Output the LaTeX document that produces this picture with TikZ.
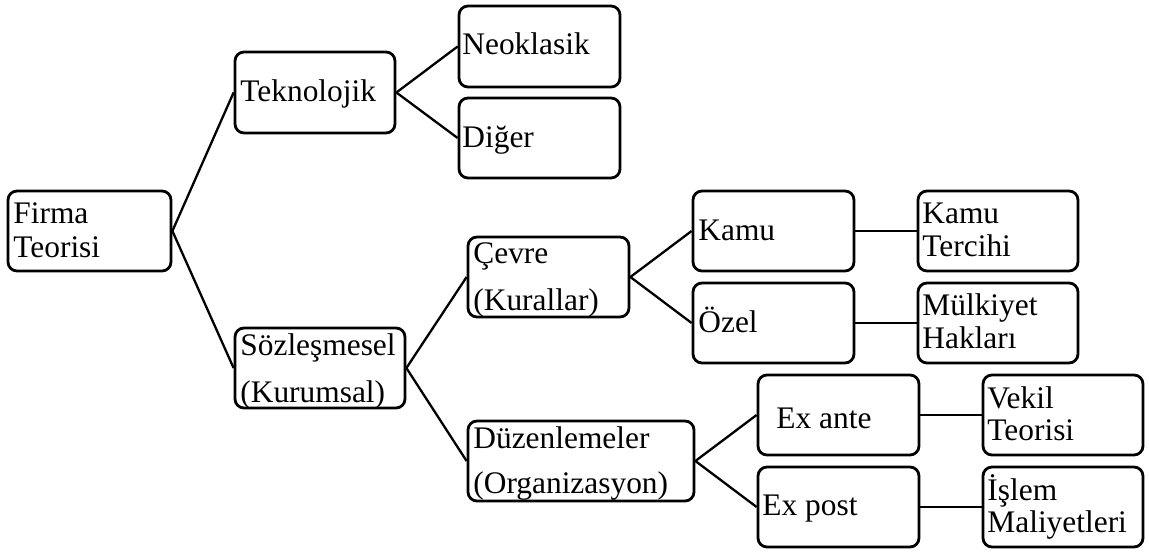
\documentclass[tikz,border=0pt]{standalone}
\usepackage{fontspec}
\setmainfont{Liberation Serif}
\begin{document}
\begin{tikzpicture}[x=0.5pt,y=-0.5pt,
  box/.style={draw=black,line width=1.4pt,rounded corners=4.5pt,inner sep=0pt,fill=white},
  txt/.style={inner sep=0pt,anchor=base west,font=\fontsize{15.7}{18}\selectfont},
  link/.style={draw=black,line width=1.15pt}]
\useasboundingbox (0,0) rectangle (1149,551);
% boxes
\node[box,minimum width=81.5pt,minimum height=40pt] (firma) at (89.5,231) {};
\node[box,minimum width=80pt,minimum height=40.5pt] (tek) at (315,92.5) {};
\node[box,minimum width=80.5pt,minimum height=40.5pt] (neo) at (539.5,46.5) {};
\node[box,minimum width=80.5pt,minimum height=40pt] (dig) at (539.5,138) {};
\node[box,minimum width=85pt,minimum height=40pt] (soz) at (320,368) {};
\node[box,minimum width=80.5pt,minimum height=40pt] (cev) at (548.5,277) {};
\node[box,minimum width=113pt,minimum height=40pt] (duz) at (581,461) {};
\node[box,minimum width=80.5pt,minimum height=40pt] (kamu) at (773.5,231) {};
\node[box,minimum width=80.5pt,minimum height=40pt] (ozel) at (773.5,323) {};
\node[box,minimum width=80pt,minimum height=40pt] (kt) at (998,231) {};
\node[box,minimum width=80pt,minimum height=40pt] (mh) at (998,323) {};
\node[box,minimum width=80.5pt,minimum height=40pt] (exa) at (838.5,415) {};
\node[box,minimum width=80.5pt,minimum height=40pt] (exp) at (838.5,507) {};
\node[box,minimum width=80pt,minimum height=40pt] (vek) at (1063,415) {};
\node[box,minimum width=80pt,minimum height=40pt] (isl) at (1063,507) {};
% connectors
\draw[link] (firma.east) -- (tek.west);
\draw[link] (firma.east) -- (soz.west);
\draw[link] (tek.east) -- (neo.west);
\draw[link] (tek.east) -- (dig.west);
\draw[link] (soz.east) -- (cev.west);
\draw[link] (soz.east) -- (duz.west);
\draw[link] (cev.east) -- (kamu.west);
\draw[link] (cev.east) -- (ozel.west);
\draw[link] (kamu.east) -- (kt.west);
\draw[link] (ozel.east) -- (mh.west);
\draw[link] (duz.east) -- (exa.west);
\draw[link] (duz.east) -- (exp.west);
\draw[link] (exa.east) -- (vek.west);
\draw[link] (exp.east) -- (isl.west);
% texts
\node[txt] (firma1) at (13,223) {Firma};
\node[txt] (firma2) at (13,257) {Teorisi};
\node[txt] (tek1) at (240,102) {Teknolojik};
\node[txt] (neo1) at (462,55) {Neoklasik};
\node[txt] (dig1) at (462,148) {Diğer};
\node[txt] (soz1) at (240,355) {Sözleşmesel};
\node[txt] (soz2) at (240,402) {(Kurumsal)};
\node[txt] (cev1) at (473,263) {Çevre};
\node[txt] (cev2) at (473,310) {(Kurallar)};
\node[txt] (duz1) at (473,448) {Düzenlemeler};
\node[txt] (duz2) at (473,493) {(Organizasyon)};
\node[txt] (kamu1) at (698,240) {Kamu};
\node[txt] (ozel1) at (698,332) {Özel};
\node[txt] (kt1) at (922,223) {Kamu};
\node[txt] (kt2) at (922,256) {Tercihi};
\node[txt] (mh1) at (922,315) {Mülkiyet};
\node[txt] (mh2) at (922,348) {Hakları};
\node[txt] (exa1) at (776,428) {Ex ante};
\node[txt] (exp1) at (762,515) {Ex post};
\node[txt] (vek1) at (987,408) {Vekil};
\node[txt] (vek2) at (987,440) {Teorisi};
\node[txt] (isl1) at (987,500) {İşlem};
\node[txt] (isl2) at (987,532) {Maliyetleri};
\end{tikzpicture}
\end{document}
